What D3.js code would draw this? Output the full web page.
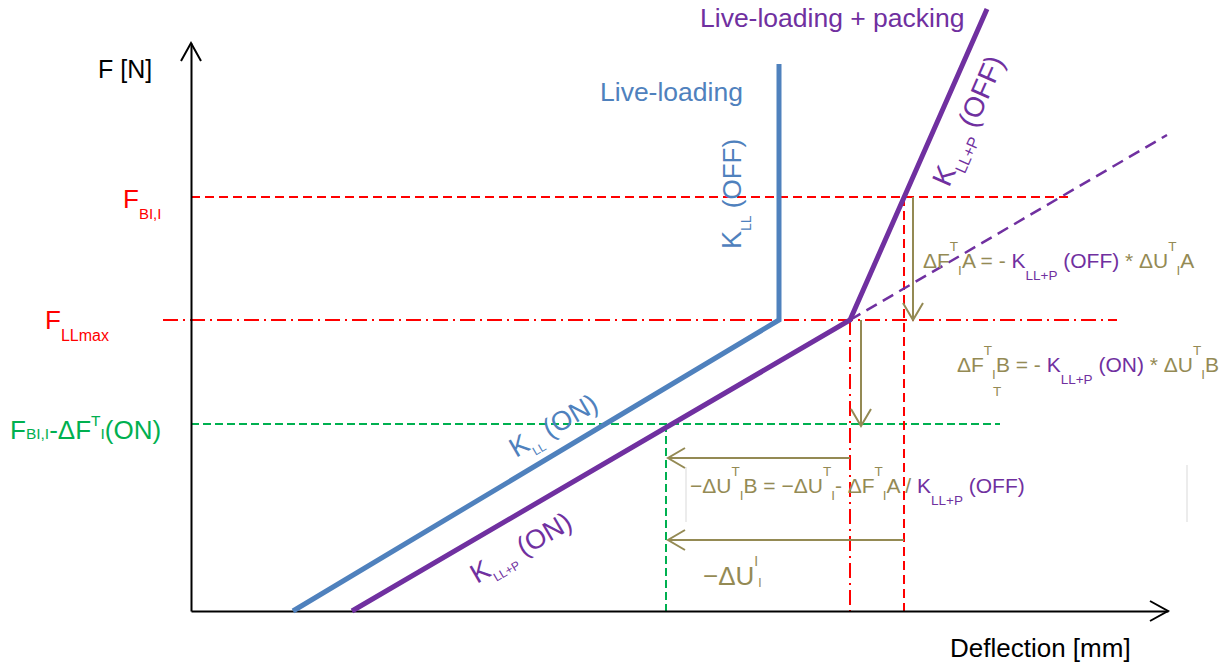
<!DOCTYPE html>
<html>
<head>
<meta charset="utf-8">
<script src="https://cdn.jsdelivr.net/npm/d3@7"></script>
<style>
  html, body { margin: 0; padding: 0; background: #ffffff; }
  svg { display: block; font-family: "Liberation Sans", Arial, sans-serif; }
</style>
</head>
<body>
<svg id="chart" width="1229" height="666"></svg>
<script>
// Schematic force–deflection diagram: live-loading vs. live-loading + packing.
// Values are in schematic units (deflection along x, force along y).

const xMax = 977;           // end of the deflection axis
const yMax = 568;           // end of the force axis

// Force levels
const F_BI = 414;           // F_BI,I
const F_LLmax = 291;        // F_LLmax
const F_ON = 187;           // F_BI,I - ΔF^T_I(ON)

// Stiffness curves
const liveLoading = [[102, 0], [588, 291], [588, 547]];
const livePacking = [[161, 0], [659, 291], [796, 602]];
const packingOnExtension = [[659, 291], [976, 476]];

// Deflection marks
const u_kink = 659;         // deflection at F_LLmax (packing kink)
const u_A = 713;            // deflection at F_BI,I on the OFF branch
const u_B = 475;            // deflection at reduced force on the ON branch

// Reference line extents along x
const spanBI = [0, 877];
const spanLLmax = [-28, 926];
const spanON = [0, 809];

// Annotation arrows: [x1, y1, x2, y2] (tip at x2, y2)
const arrowsForce = [[722, F_BI, 722, F_LLmax], [670, F_LLmax, 670, F_ON - 2]];
const arrowsDefl = [[u_kink, 153, u_B + 2, 153], [u_A, 71, u_B + 2, 71]];
const boxEdges = [[495, 144, 495, 89], [996, 146, 996, 89]];

const C = {
  blue: "#4F81BD",
  purple: "#7030A0",
  red: "#FF0000",
  green: "#00B050",
  olive: "#948A54",
  black: "#000000"
};

const svg = d3.select("#chart");
const x = d3.scaleLinear().domain([0, xMax]).range([191, 1168]);
const y = d3.scaleLinear().domain([0, yMax]).range([611, 43]);
const line = d3.line().x(d => x(d[0])).y(d => y(d[1]));

// ---- reference lines ----
function hLine(v, span, color, dash, w) {
  svg.append("line")
    .attr("x1", x(span[0])).attr("x2", x(span[1]))
    .attr("y1", y(v)).attr("y2", y(v))
    .attr("stroke", color).attr("stroke-width", w || 2)
    .attr("stroke-dasharray", dash);
}
function vLine(u, v0, v1, color, dash, w) {
  svg.append("line")
    .attr("x1", x(u)).attr("x2", x(u))
    .attr("y1", y(v0)).attr("y2", y(v1))
    .attr("stroke", color).attr("stroke-width", w || 2)
    .attr("stroke-dasharray", dash);
}

hLine(F_BI, spanBI, C.red, "9,5");
hLine(F_LLmax, spanLLmax, C.red, "15,5,2,5");
hLine(F_ON, spanON, C.green, "8,4");
vLine(u_kink, F_LLmax, 0, C.red, "15,5,2,5");
vLine(u_A, F_BI, 0, C.red, "9,5");
vLine(u_B, F_ON, 0, C.green, "8,4");

// faint text-box edges
boxEdges.forEach(e => {
  svg.append("line")
    .attr("x1", x(e[0])).attr("y1", y(e[1]))
    .attr("x2", x(e[2])).attr("y2", y(e[3]))
    .attr("stroke", "#d9d9d9").attr("stroke-width", 1);
});

// ---- axes ----
const xAxis = svg.append("g").attr("transform", `translate(0,${y(0)})`)
  .call(d3.axisBottom(x).ticks(0).tickSizeOuter(0));
const yAxis = svg.append("g").attr("transform", `translate(${x(0)},0)`)
  .call(d3.axisLeft(y).ticks(0).tickSizeOuter(0));
[xAxis, yAxis].forEach(g => g.select(".domain").attr("stroke", C.black).attr("stroke-width", 2));

function chevron(tx, ty, dx, dy, len, half, color, w) {
  // open arrow head pointing along (dx, dy) with its tip at (tx, ty)
  const nx = -dy, ny = dx;
  const bx = tx - dx * len, by = ty - dy * len;
  svg.append("path")
    .attr("d", `M${bx + nx * half},${by + ny * half}L${tx},${ty}L${bx - nx * half},${by - ny * half}`)
    .attr("fill", "none").attr("stroke", color).attr("stroke-width", w);
}
chevron(x(xMax), y(0), 1, 0, 18, 10, C.black, 2);
chevron(x(0), y(yMax), 0, -1, 18, 10, C.black, 2);

// ---- stiffness curves ----
svg.append("path").datum(packingOnExtension).attr("d", line)
  .attr("fill", "none").attr("stroke", C.purple).attr("stroke-width", 2.5)
  .attr("stroke-dasharray", "12,7");
svg.append("path").datum(liveLoading).attr("d", line)
  .attr("fill", "none").attr("stroke", C.blue).attr("stroke-width", 5);
svg.append("path").datum(livePacking).attr("d", line)
  .attr("fill", "none").attr("stroke", C.purple).attr("stroke-width", 5);

// ---- annotation arrows ----
arrowsForce.concat(arrowsDefl).forEach(a => {
  const x1 = x(a[0]), y1 = y(a[1]), x2 = x(a[2]), y2 = y(a[3]);
  svg.append("line").attr("x1", x1).attr("y1", y1).attr("x2", x2).attr("y2", y2)
    .attr("stroke", C.olive).attr("stroke-width", 2);
  const L = Math.hypot(x2 - x1, y2 - y1);
  chevron(x2, y2, (x2 - x1) / L, (y2 - y1) / L, 17, 10, C.olive, 2);
});

// ---- text ----
// each run: [text, fontSize, dy, colour]
function rich(tx, ty, runs, rotate) {
  const t = svg.append("text")
    .attr("transform", `translate(${tx},${ty})` + (rotate ? ` rotate(${rotate})` : ""));
  runs.forEach(r => {
    t.append("tspan").text(r[0])
      .attr("font-size", r[1])
      .attr("dy", r[2] || 0)
      .attr("fill", r[3]);
  });
  return t;
}

// axis titles
rich(98, 78, [["F [N]", 25, 0, C.black]]);
rich(950, 657, [["Deflection [mm]", 26, 0, C.black]]);

// series names
rich(600, 101, [["Live-loading", 26.5, 0, C.blue]]);
rich(700, 27, [["Live-loading + packing", 26.5, 0, C.purple]]);

// force level labels
rich(123, 208, [["F", 26, 0, C.red], ["BI,I", 15, 11, C.red]]);
rich(45, 329, [["F", 26, 0, C.red], ["LLmax", 16, 12, C.red]]);
rich(10, 439, [
  ["F", 26, 0, C.green], ["BI,I", 15.5, 0, C.green], ["-ΔF", 26, 0, C.green],
  ["T", 15.5, -13, C.green], ["I", 15.5, 13, C.green], ["(ON)", 26, 0, C.green]
]);

// stiffness labels along the curves
const angOn = Math.atan2(y(livePacking[1][1]) - y(livePacking[0][1]), x(livePacking[1][0]) - x(livePacking[0][0])) * 180 / Math.PI;
const angOff = Math.atan2(y(livePacking[2][1]) - y(livePacking[1][1]), x(livePacking[2][0]) - x(livePacking[1][0])) * 180 / Math.PI;

rich(741, 249, [["K", 27, 0, C.blue], ["LL", 14, 10, C.blue], [" (OFF)", 26, -10, C.blue]], -90);
rich(949, 188, [["K", 28, 0, C.purple], ["LL+P", 16, 9, C.purple], [" (OFF)", 28, -9, C.purple]], angOff);
rich(516, 458, [["K", 27, 0, C.blue], ["LL", 12, 8, C.blue], [" (ON)", 27, -8, C.blue]], angOn);
rich(477, 584, [["K", 27, 0, C.purple], ["LL+P", 12, 8, C.purple], [" (ON)", 27, -8, C.purple]], angOn);

// relations
rich(923, 268, [
  ["ΔF", 21, 0, C.olive], ["T", 13.5, -17, C.olive], ["I", 13.5, 24, C.olive],
  ["A = - ", 21, -7, C.olive], ["K", 21, 0, C.purple], ["LL+P", 13.5, 12, C.purple],
  [" (OFF)", 21, -12, C.purple], [" * ΔU", 21, 0, C.olive],
  ["T", 13.5, -17, C.olive], ["I", 13.5, 24, C.olive], ["A", 21, -7, C.olive]
]);
rich(957, 372, [
  ["ΔF", 21, 0, C.olive], ["T", 13.5, -17, C.olive], ["I", 13.5, 24, C.olive],
  ["B = - ", 21, -7, C.olive], ["K", 21, 0, C.purple], ["LL+P", 13.5, 12, C.purple],
  [" (ON)", 21, -12, C.purple], [" * ΔU", 21, 0, C.olive],
  ["T", 13.5, -17, C.olive], ["I", 13.5, 24, C.olive], ["B", 21, -7, C.olive]
]);
rich(993, 396, [["T", 13.5, 0, C.olive]]);
rich(690, 493, [
  ["−ΔU", 21, 0, C.olive], ["T", 13.5, -17, C.olive], ["I", 13.5, 24, C.olive],
  ["B = −ΔU", 21, -7, C.olive], ["T", 13.5, -17, C.olive], ["I", 13.5, 24, C.olive],
  ["- ΔF", 21, -7, C.olive], ["T", 13.5, -17, C.olive], ["I", 13.5, 24, C.olive],
  ["A / ", 21, -7, C.olive], ["K", 21, 0, C.purple], ["LL+P", 13.5, 12, C.purple],
  [" (OFF)", 21, -12, C.purple]
]);
rich(703, 585, [
  ["−ΔU", 26, 0, C.olive], ["I", 14, -19, C.olive], ["I", 12, 21, C.olive]
]);
</script>
</body>
</html>
